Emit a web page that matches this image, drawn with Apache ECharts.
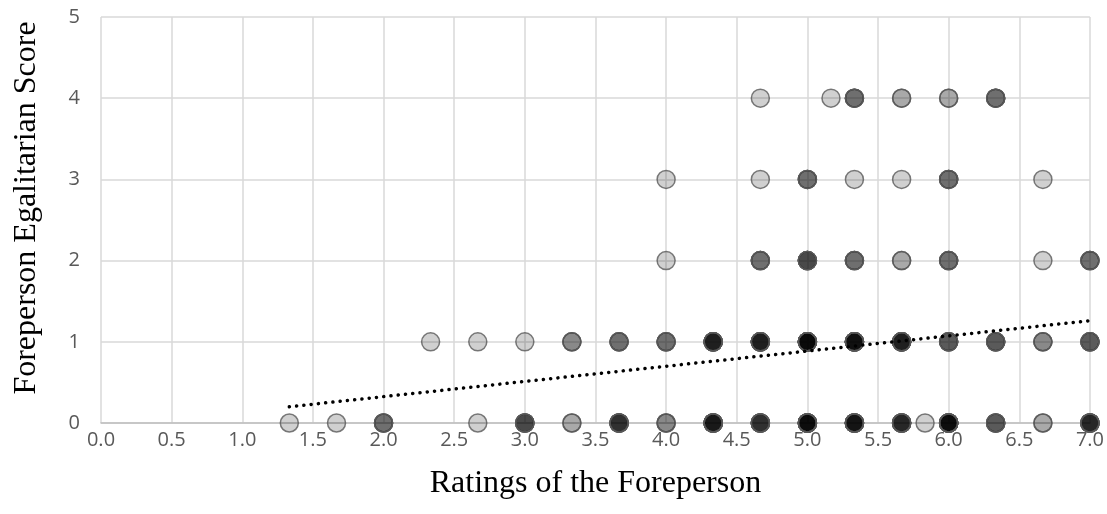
<!DOCTYPE html>
<html>
<head>
<meta charset="utf-8">
<script src="https://cdn.jsdelivr.net/npm/echarts@6/dist/echarts.min.js"></script>
<style>
  html, body { margin: 0; padding: 0; background: #fff; }
  #chart { width: 1107px; height: 514px; }
</style>
</head>
<body>
<div id="chart"></div>
<script>
  // ratings (x) at each egalitarian score, and how many answers sit on that spot
  var row0X = [1.333, 1.667, 2.0, 2.667, 3.0, 3.333, 3.667, 4.0, 4.333, 4.667, 5.0, 5.333, 5.667, 5.833, 6.0, 6.333, 6.667, 7.0];
  var row0N = [1, 1, 4, 1, 6, 2, 8, 3, 11, 8, 14, 12, 9, 1, 14, 5, 2, 9];
  var row1X = [2.333, 2.667, 3.0, 3.333, 3.667, 4.0, 4.333, 4.667, 5.0, 5.333, 5.667, 6.0, 6.333, 6.667, 7.0];
  var row1N = [1, 1, 1, 3, 4, 4, 10, 10, 15, 13, 10, 5, 5, 3, 5];
  var row2X = [4.0, 4.667, 5.0, 5.333, 5.667, 6.0, 6.667, 7.0];
  var row2N = [1, 4, 6, 4, 2, 4, 1, 4];
  var row3X = [4.0, 4.667, 5.0, 5.333, 5.667, 6.0, 6.667];
  var row3N = [1, 1, 4, 1, 1, 4, 1];
  var row4X = [4.667, 5.167, 5.333, 5.667, 6.0, 6.333];
  var row4N = [1, 1, 4, 2, 2, 4];

  // linear trend line
  var trendX = [1.333, 7.0];
  var trendY = [0.2, 1.26];

  var rows = [
    { y: 0, xs: row0X, ns: row0N },
    { y: 1, xs: row1X, ns: row1N },
    { y: 2, xs: row2X, ns: row2N },
    { y: 3, xs: row3X, ns: row3N },
    { y: 4, xs: row4X, ns: row4N }
  ];

  var points = [];
  rows.forEach(function (r) {
    for (var i = 0; i < r.xs.length; i++) {
      for (var k = 0; k < r.ns[i]; k++) {
        points.push([r.xs[i], r.y]);
      }
    }
  });

  var chart = echarts.init(document.getElementById('chart'), null, { renderer: 'canvas' });
  chart.setOption({
    animation: false,
    backgroundColor: '#fff',
    grid: { left: 101, right: 17, top: 17, bottom: 91 },
    xAxis: {
      type: 'value',
      min: 0,
      max: 7,
      interval: 0.5,
      name: 'Ratings of the Foreperson',
      nameLocation: 'middle',
      nameGap: 45,
      nameTextStyle: { fontFamily: 'Liberation Serif', fontSize: 32, color: '#000' },
      axisLine: { show: true, onZero: false, lineStyle: { color: '#bfbfbf', width: 1.5 } },
      axisTick: { show: false },
      axisLabel: {
        margin: 7,
        color: '#595959',
        fontFamily: 'Open Sans',
        fontSize: 20,
        formatter: function (v) { return v.toFixed(1); }
      },
      splitLine: { show: true, lineStyle: { color: '#d9d9d9', width: 1.5 } }
    },
    yAxis: {
      type: 'value',
      min: 0,
      max: 5,
      interval: 1,
      name: 'Foreperson Egalitarian Score',
      nameLocation: 'middle',
      nameGap: 58,
      nameTextStyle: { fontFamily: 'Liberation Serif', fontSize: 32, color: '#000', padding: [0, 0, 0, 24] },
      axisLine: { show: false },
      axisTick: { show: false },
      axisLabel: {
        margin: 21,
        color: '#595959',
        fontFamily: 'Open Sans',
        fontSize: 20
      },
      splitLine: { show: true, lineStyle: { color: '#d9d9d9', width: 1.5 } }
    },
    series: [
      {
        type: 'scatter',
        symbol: 'circle',
        symbolSize: 18,
        data: points,
        itemStyle: {
          color: 'rgba(0,0,0,0.23)',
          borderColor: '#595959',
          borderWidth: 1.5
        },
        z: 2
      },
      {
        type: 'line',
        data: trendX.map(function (x, i) { return [x, trendY[i]]; }),
        symbol: 'none',
        lineStyle: { color: '#000', width: 3.5, type: [0.1, 7.2], cap: 'round' },
        z: 3
      }
    ]
  });
</script>
</body>
</html>
